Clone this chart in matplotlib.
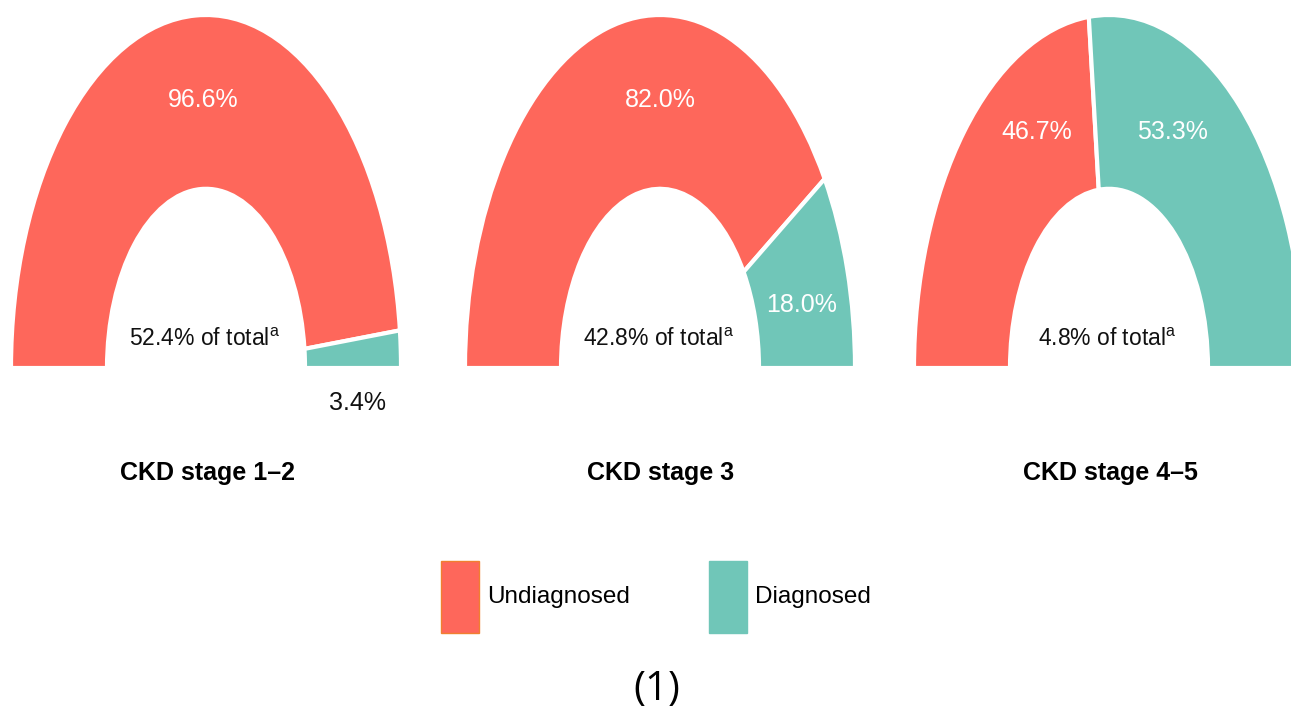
import matplotlib
matplotlib.use("Agg")
import matplotlib.pyplot as plt
from matplotlib.patches import Patch

# Daten
stages = ["CKD stage 1\u20132", "CKD stage 3", "CKD stage 4\u20135"]
undiagnosed = [96.6, 82.0, 46.7]
diagnosed = [3.4, 18.0, 53.3]
share_of_total = [52.4, 42.8, 4.8]
series_names = ["Undiagnosed", "Diagnosed"]
colors = ["#FE675B", "#70C6B8"]

FONT = "Liberation Sans"
plt.rcParams["font.family"] = [FONT, "DejaVu Sans"]
plt.rcParams["mathtext.fontset"] = "custom"
plt.rcParams["mathtext.rm"] = FONT

W, H = 1291, 713
SY = 353 / 195          # vertikale Streckung der Halbringe


def px(x, y):
    """Pixelkoordinaten (Bild, y nach unten) -> Datenkoordinaten."""
    return x, (H - y) / SY


fig = plt.figure(figsize=(W / 100, H / 100), dpi=100)
ax = fig.add_axes([0, 0, 1, 1])

centers_x = [206, 660, 1109]
R, RING = 195, 96
# Label-Positionen (Pixel) fuer Undiagnosed / Diagnosed
lab_pos = [[(203, 100), (358, 403)],
           [(660, 100), (802, 305)],
           [(1037, 132), (1172, 132)]]
lab_col = [["white", "#111111"], ["white", "white"], ["white", "white"]]

for i, stage in enumerate(stages):
    vals = [undiagnosed[i], diagnosed[i], undiagnosed[i] + diagnosed[i]]
    wedges, _ = ax.pie(vals, colors=colors + ["none"], startangle=180, counterclock=False,
                       center=px(centers_x[i], 368), radius=R, frame=True,
                       wedgeprops=dict(width=RING, edgecolor="white", linewidth=3))
    wedges[2].set_visible(False)
    for j, v in enumerate([undiagnosed[i], diagnosed[i]]):
        x, y = px(*lab_pos[i][j])
        ax.text(x, y, f"{v:.1f}%", ha="center", va="center", fontsize=18, color=lab_col[i][j])
    x, y = px(centers_x[i] - 2, 340)
    ax.text(x, y, f"{share_of_total[i]:.1f}% of total" + r"$^{\mathrm{a}}$",
            ha="center", va="center", fontsize=16.5, color="#111111")
    x, y = px(centers_x[i] + 1, 473)
    ax.text(x, y, stage, ha="center", va="center", fontsize=18, fontweight="bold", color="black")

ax.set_aspect("auto")
ax.set_xlim(0, W)
ax.set_ylim(0, H / SY)
ax.axis("off")

handles = [Patch(facecolor=colors[0], edgecolor="#F08030", linewidth=1),
           Patch(facecolor=colors[1], edgecolor=colors[1], linewidth=1)]
fig.legend(handles, series_names, loc="center", bbox_to_anchor=(656 / W, 1 - 597 / H), ncol=2,
           frameon=False, fontsize=17.5, handlelength=1.57, handleheight=4.18,
           handletextpad=0.33, columnspacing=3.25)

fig.text(657 / W, 1 - 690 / H, "(1)", ha="center", va="center", fontsize=29,
         family=["Open Sans", "DejaVu Sans"], color="black")

fig.savefig("out.png", dpi=100)
